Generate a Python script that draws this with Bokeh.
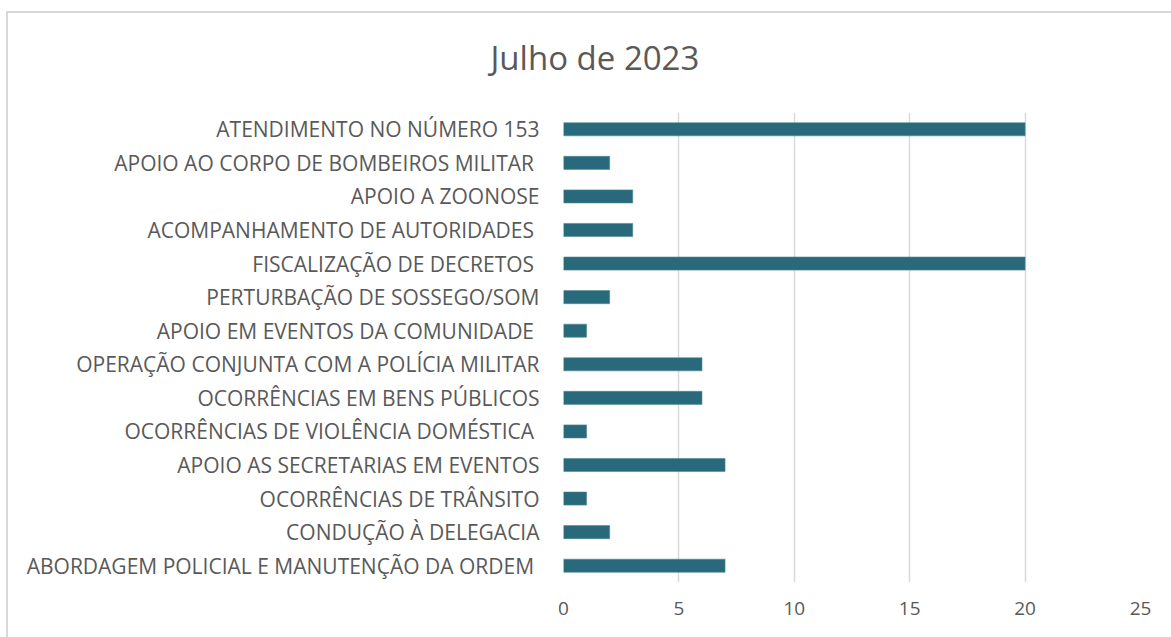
from bokeh.plotting import figure
from bokeh.models import FactorRange, Range1d, FixedTicker
from bokeh.embed import file_html
from bokeh.resources import INLINE

title_text = "Julho de 2023"
categories = [
    "ATENDIMENTO NO NÚMERO 153",
    "APOIO AO CORPO DE BOMBEIROS MILITAR ",
    "APOIO A ZOONOSE",
    "ACOMPANHAMENTO DE AUTORIDADES ",
    "FISCALIZAÇÃO DE DECRETOS ",
    "PERTURBAÇÃO DE SOSSEGO/SOM",
    "APOIO EM EVENTOS DA COMUNIDADE ",
    "OPERAÇÃO CONJUNTA COM A POLÍCIA MILITAR",
    "OCORRÊNCIAS EM BENS PÚBLICOS",
    "OCORRÊNCIAS DE VIOLÊNCIA DOMÉSTICA ",
    "APOIO AS SECRETARIAS EM EVENTOS",
    "OCORRÊNCIAS DE TRÂNSITO",
    "CONDUÇÃO À DELEGACIA",
    "ABORDAGEM POLICIAL E MANUTENÇÃO DA ORDEM ",
]
values = [20, 2, 3, 3, 20, 2, 1, 6, 6, 1, 7, 1, 2, 7]
x_ticks = [0, 5, 10, 15, 20, 25]

FONT = "Open Sans"
GREY = "#595959"
EDGE = "linear-gradient(#d9d9d9, #d9d9d9)"

p = figure(
    width=1165, height=637,
    y_range=FactorRange(factors=list(reversed(categories)), range_padding=0),
    x_range=Range1d(0, 25),
    output_backend="svg", toolbar_location=None,
    min_border_left=557, min_border_right=31, min_border_top=0, min_border_bottom=55,
    margin=(0, 0, 0, 6),
    styles={"background": f"{EDGE} 0 11px / 100% 2px no-repeat, {EDGE} 0 11px / 2px 100% no-repeat"},
)
p.border_fill_color = None
p.background_fill_color = "white"

p.hbar(y=categories, right=values, left=0, height=0.39,
       fill_color="#286A7B", line_color="#4f8794", line_width=0.6)

p.title.text = title_text
p.title.align = "left"
p.title.offset = -73
p.title.text_font = FONT
p.title.text_font_style = "normal"
p.title.text_font_size = "33px"
p.title.text_color = GREY
p.title.standoff = 65

p.outline_line_color = None
p.ygrid.grid_line_color = None
p.xgrid.grid_line_color = "#d9d9d9"
p.xgrid.grid_line_width = 1.5
p.xaxis.ticker = FixedTicker(ticks=x_ticks)

for ax in (p.xaxis, p.yaxis):
    ax.axis_line_color = None
    ax.major_tick_line_color = None
    ax.minor_tick_line_color = None
    ax.major_tick_in = 0
    ax.major_tick_out = 0
    ax.major_label_text_font = FONT
    ax.major_label_text_color = GREY

p.yaxis.major_label_text_font_size = "21px"
p.xaxis.major_label_text_font_size = "19px"
p.yaxis.major_label_standoff = 24
p.xaxis.major_label_standoff = 19

open("out.html", "w").write(file_html(p, INLINE))
